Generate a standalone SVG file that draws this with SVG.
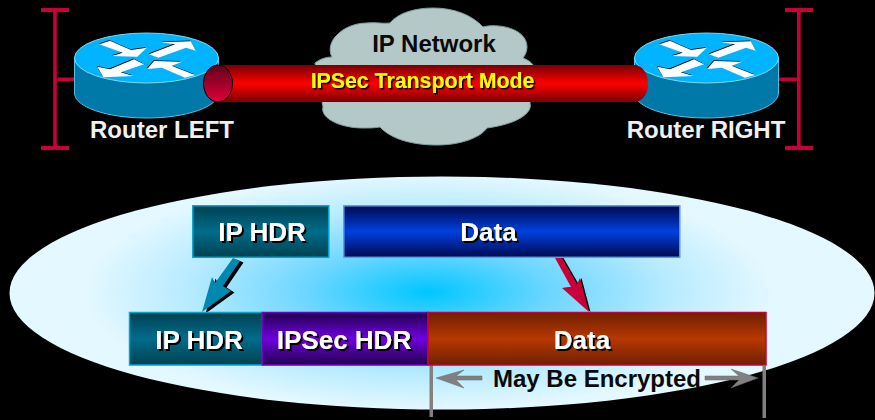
<svg xmlns="http://www.w3.org/2000/svg" width="875" height="420" viewBox="0 0 875 420">
<style>
text{font-family:"Liberation Sans",Arial,sans-serif;font-weight:bold;text-anchor:middle}
.w{fill:#fff;font-size:26px;filter:url(#sh)}
.lbl{fill:#f0f0f0;font-size:24px}
.dk{fill:#0a0a0a;font-size:24px}
.bus{fill:#c80037}
.bx{stroke-width:1.5}
</style>
<defs>
<filter id="sh" x="-5%" y="-10%" width="112%" height="125%"><feDropShadow dx="2" dy="2" stdDeviation="0" flood-color="#000"/></filter>
<filter id="sh2" x="-5%" y="-10%" width="112%" height="125%"><feDropShadow dx="1.5" dy="1.5" stdDeviation="0" flood-color="#000"/></filter>
<radialGradient id="halo" gradientUnits="userSpaceOnUse" cx="0" cy="0" r="1" gradientTransform="translate(428 292) scale(345 118)">
<stop offset="0" stop-color="#00c6ff"/><stop offset=".35" stop-color="#6cd6ff"/><stop offset=".7" stop-color="#b8ebff"/><stop offset="1" stop-color="#e4f8ff"/>
</radialGradient>
<linearGradient id="gTeal" x1="0" y1="0" x2="0" y2="1"><stop offset="0" stop-color="#00414f"/><stop offset=".5" stop-color="#006c8c"/><stop offset="1" stop-color="#00414f"/></linearGradient>
<linearGradient id="gBlue" x1="0" y1="0" x2="0" y2="1"><stop offset="0" stop-color="#000a50"/><stop offset=".5" stop-color="#0040e0"/><stop offset="1" stop-color="#000a50"/></linearGradient>
<linearGradient id="gPur" x1="0" y1="0" x2="0" y2="1"><stop offset="0" stop-color="#20004c"/><stop offset=".5" stop-color="#7000e0"/><stop offset="1" stop-color="#20004c"/></linearGradient>
<linearGradient id="gRust" x1="0" y1="0" x2="0" y2="1"><stop offset="0" stop-color="#6e2000"/><stop offset=".5" stop-color="#b83800"/><stop offset="1" stop-color="#6e2000"/></linearGradient>
<linearGradient id="gTube" x1="0" y1="0" x2="0" y2="1"><stop offset="0" stop-color="#780000"/><stop offset=".5" stop-color="#ff0000"/><stop offset="1" stop-color="#780000"/></linearGradient>
<linearGradient id="gCap" x1="0" y1="0" x2="0" y2="1"><stop offset="0" stop-color="#60001c"/><stop offset="1" stop-color="#e00038"/></linearGradient>
<g id="arrows">
<path d="M99.300 44.300L110 40.700L131 50L146.700 47.700L137.300 56.700L112.300 56L122.700 52.700Z"/>
<path d="M160.700 42.300L190.700 41.300L195.700 50.700L186 47.700L158.300 57.700L149 54.300L175 44.300Z"/>
<path d="M97.300 66.700L110 69.300L134 59.300L144 64.300L120.700 72.300L133.300 76L103.300 77.300Z"/>
<path d="M147.300 69L154 61L182.300 61.700L171.700 65.700L195 75L185 77.700L161.700 67.700Z"/>
</g>
<g id="router">
<path d="M74.500 58V93C74.500 107 107 118 146.500 118S218.500 107 218.500 93V58Z" fill="#0078a8" stroke="#58c0e0" stroke-width="1"/>
<ellipse cx="146.500" cy="58" rx="72" ry="25" fill="#00b4ff" stroke="#80d8f0" stroke-width="1"/>
<use href="#arrows" fill="#000" transform="translate(-.6 -.8)"/>
<use href="#arrows" fill="#fff"/>
</g>
</defs>
<rect width="875" height="420" fill="#000"/>
<ellipse id="halo-bg" cx="442" cy="293" rx="432.500" ry="116.500" fill="url(#halo)"/>

<g id="cloud">
<path d="M315 63C320 59 326 57 332 57C328 50 331 41 336 36C343 28 355 23 367 23C376 22 384 24 390 23C398 13 415 8 433 8C454 8 472 15 483 27C497 23 527 28 527 47C527 52 525 55 523 58C528 60 531 62 533 65L530 103C533 113 517 124 487 128C480 138 460 145 437 145C410 145 390 138 380 127C374 128 369 128 363 128C340 128 320 118 323 107Z" fill="#b4c8c8" stroke="#7fa0a4" stroke-width="1"/>
<text class="dk" x="434" y="52">IP Network</text>
</g>

<g id="router-left">
<rect class="bus" x="53.200" y="12" width="3.600" height="136"/>
<rect class="bus" x="41" y="8" width="28" height="4"/>
<rect class="bus" x="41" y="146" width="28" height="4"/>
<rect class="bus" x="58" y="77.500" width="17" height="3.500"/>
<use href="#router"/>
<text class="lbl" x="162" y="138">Router LEFT</text>
</g>

<g id="router-right">
<rect class="bus" x="797" y="12" width="3.600" height="136"/>
<rect class="bus" x="785" y="8" width="28" height="4"/>
<rect class="bus" x="785" y="146" width="28" height="4"/>
<rect class="bus" x="779" y="77.500" width="19" height="3.500"/>
<use href="#router" transform="translate(560 0)"/>
<text class="lbl" x="706" y="138">Router RIGHT</text>
</g>

<g id="tunnel">
<path d="M218 65H634C642 65 648 73 648 83.500S642 102 634 102H218Z" fill="url(#gTube)"/>
<ellipse cx="218" cy="83.500" rx="14.500" ry="18.500" fill="url(#gCap)" stroke="#000" stroke-width="1"/>
<text x="422.500" y="88" font-size="21.300" fill="#ffff00" filter="url(#sh2)">IPSec Transport Mode</text>
</g>

<g id="connectors">
<path d="M202 312L212 277L215 283L233 258L240 261L223 286L231 291Z" fill="#000" transform="translate(3.500 1.500)"/>
<path d="M202 312L212 277L215 283L233 258L240 261L223 286L231 291Z" fill="#0088b0"/>
<path d="M555 258L562 258L577 284L580 278L589 312L562 288L571 287Z" fill="#000" transform="translate(1.500 0)"/>
<path d="M555 258L562 258L577 284L580 278L589 312L562 288L571 287Z" fill="#c80037"/>
<path d="M436 378L464 370L456 376H482V380H456L464 388Z" fill="#808080" stroke="#6a6a6a" stroke-width=".5"/>
<path d="M758 378L731 369L739 376H705V380H739L731 388Z" fill="#808080" stroke="#6a6a6a" stroke-width=".5"/>
<rect x="429.500" y="365" width="3.500" height="52" fill="#808080"/>
<rect x="762.500" y="366" width="3.500" height="52" fill="#808080"/>
</g>

<g id="top-ip-hdr">
<rect class="bx" x="192.800" y="205.800" width="136" height="51.500" fill="url(#gTeal)" stroke="#00a8d0"/>
<text class="w" x="262" y="241">IP HDR</text>
</g>
<g id="top-data">
<rect class="bx" x="343.800" y="205.800" width="336" height="51.500" fill="url(#gBlue)" stroke="#5c9ce8"/>
<text class="w" x="488.500" y="241">Data</text>
</g>
<g id="bottom-ip-hdr">
<rect class="bx" x="129.500" y="312.500" width="133" height="52.500" fill="url(#gTeal)" stroke="#00a8d0"/>
<text class="w" x="199" y="349">IP HDR</text>
</g>
<g id="bottom-ipsec-hdr">
<rect class="bx" x="262.500" y="312.500" width="165.500" height="52.500" fill="url(#gPur)" stroke="#7000c0"/>
<text class="w" x="344" y="349">IPSec HDR</text>
</g>
<g id="bottom-data">
<rect class="bx" x="428" y="312.500" width="338" height="52.500" fill="url(#gRust)" stroke="#c80037"/>
<text class="w" x="582" y="349">Data</text>
</g>
<g id="encrypted-label">
<text class="dk" x="597" y="387">May Be Encrypted</text>
</g>
</svg>
